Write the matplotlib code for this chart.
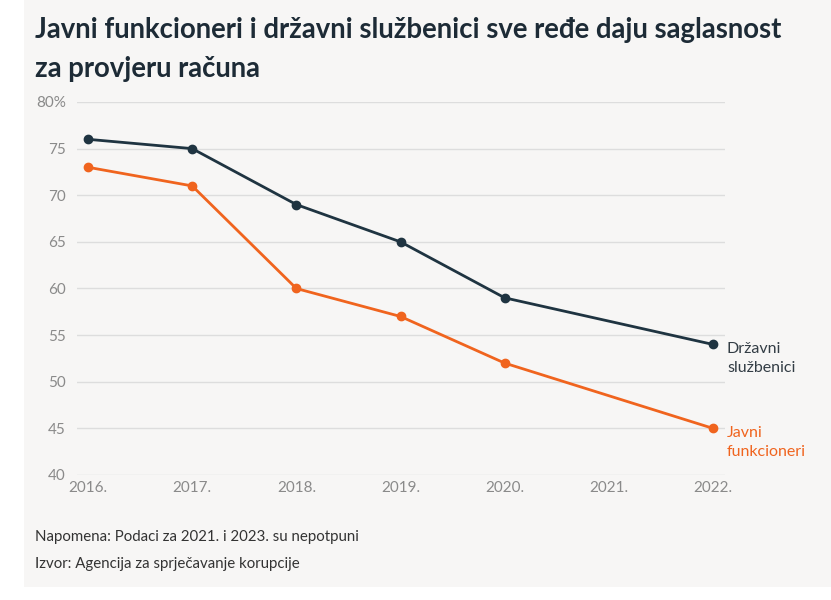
import matplotlib
matplotlib.use("Agg")
import matplotlib.pyplot as plt
from matplotlib.patches import Rectangle

# data
years_drz = [2016, 2017, 2018, 2019, 2020, 2022]
drzavni = [76, 75, 69, 65, 59, 54]
years_jav = [2016, 2017, 2018, 2019, 2020, 2022]
javni = [73, 71, 60, 57, 52, 45]
xticks = [2016, 2017, 2018, 2019, 2020, 2021, 2022]
xlabels = ["2016.", "2017.", "2018.", "2019.", "2020.", "2021.", "2022."]
yticks = [40, 45, 50, 55, 60, 65, 70, 75, 80]
ylabels = ["40", "45", "50", "55", "60", "65", "70", "75", "80%"]

dark = "#1f3441"
orange = "#f0641e"
bg = "#f7f6f5"
cond = ["Lato", "DejaVu Sans"]

fig = plt.figure(figsize=(8.31, 6), dpi=100)
fig.patch.set_facecolor("white")
# gray panel behind the chart
fig.patches.append(Rectangle((24 / 831, 13 / 600), 1 - 24 / 831, 1 - 13 / 600,
                             transform=fig.transFigure, facecolor=bg,
                             edgecolor="none", zorder=-1))

ax = fig.add_axes([77 / 831, 1 - 475 / 600, 648 / 831, 373 / 600])
ax.set_facecolor(bg)

ax.plot(years_drz, drzavni, color=dark, lw=2, marker="o", ms=6, zorder=3,
        clip_on=False)
ax.plot(years_jav, javni, color=orange, lw=2, marker="o", ms=6, zorder=3,
        clip_on=False)

ax.set_xlim(2015.894, 2022.115)
ax.set_ylim(40, 80)
ax.set_yticks(yticks)
ax.set_yticklabels(ylabels)
ax.set_xticks(xticks)
ax.set_xticklabels(xlabels)
ax.grid(axis="y", color="#dddddd", lw=1)
ax.set_axisbelow(True)
for s in ax.spines.values():
    s.set_visible(False)
ax.tick_params(axis="both", length=0, labelsize=11, colors="#9a9a9a")
ax.tick_params(axis="y", pad=8)
ax.tick_params(axis="x", pad=4)
for lab in ax.get_xticklabels() + ax.get_yticklabels():
    lab.set_family(cond)
    lab.set_color("#8a8a8a")

# end labels
ax.annotate("Državni\nslužbenici", (years_drz[-1], drzavni[-1]), xytext=(10, 2),
            textcoords="offset points", va="top", ha="left", fontsize=11.5,
            color="#333d45", family=cond, linespacing=1.45,
            annotation_clip=False)
ax.annotate("Javni\nfunkcioneri", (years_jav[-1], javni[-1]), xytext=(10, 2),
            textcoords="offset points", va="top", ha="left", fontsize=11.5,
            color=orange, family=cond, linespacing=1.45,
            annotation_clip=False)

fig.text(35 / 831, 1 - 17 / 600,
         "Javni funkcioneri i državni službenici sve ređe daju saglasnost\nza provjeru računa",
         ha="left", va="top", fontsize=19.8, fontweight="bold", color="#1d2b36",
         family=cond, linespacing=1.62)

fig.text(35 / 831, 1 - 537 / 600, "Napomena: Podaci za 2021. i 2023. su nepotpuni",
         ha="left", va="center", fontsize=10.8, color="#333333", family=cond)
fig.text(35 / 831, 1 - 564 / 600, "Izvor: Agencija za sprječavanje korupcije",
         ha="left", va="center", fontsize=10.8, color="#333333", family=cond)

fig.savefig("out.png", dpi=100, facecolor=fig.get_facecolor())
